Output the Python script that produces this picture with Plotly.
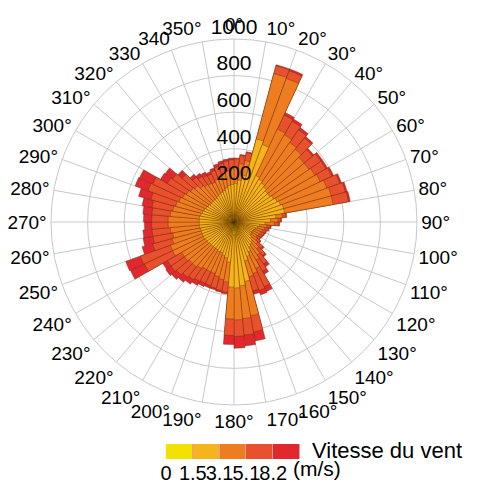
import plotly.graph_objects as go

# 5-degree direction bins (start angle of each bin)
bin_start = list(range(0, 360, 5))

# cumulative radius at the outer edge of each speed class
# (yellow / amber / orange / red-orange / red), one value per 5-degree bin
edge_0_15 = [30, 30, 30, 35, 35, 35, 35, 30, 30, 30, 30, 30, 30, 30, 30, 30, 30, 30,
             30, 30, 25, 25, 25, 25, 25, 25, 25, 30, 30, 30, 35, 40, 45, 55, 65, 70,
             70, 55, 45, 40, 40, 35, 35, 35, 35, 35, 35, 35, 35, 35, 35, 35, 35, 35,
             35, 35, 35, 35, 35, 35, 35, 35, 35, 35, 35, 35, 35, 35, 35, 35, 35, 35]
edge_15_31 = [210, 230, 260, 470, 450, 280, 270, 260, 250, 240, 240, 250, 260, 270, 280, 280, 230, 200,
              170, 140, 130, 120, 115, 110, 110, 115, 125, 140, 150, 160, 180, 200, 220, 330, 350, 360,
              355, 220, 200, 190, 180, 180, 175, 175, 175, 175, 180, 180, 185, 185, 185, 185, 190, 190,
              190, 190, 185, 180, 175, 170, 165, 160, 160, 160, 160, 165, 170, 175, 180, 190, 200, 205]
edge_31_51 = [300, 320, 340, 840, 835, 560, 550, 530, 520, 500, 500, 510, 520, 540, 550, 550, 265, 240,
              220, 180, 170, 160, 155, 150, 145, 155, 170, 190, 220, 240, 280, 300, 310, 520, 530, 535,
              530, 330, 320, 310, 300, 300, 300, 310, 320, 320, 330, 330, 370, 370, 350, 340, 350, 360,
              360, 350, 340, 330, 320, 310, 300, 290, 280, 260, 250, 245, 240, 250, 260, 270, 280, 290]
edge_51_82 = [345, 365, 385, 885, 880, 645, 635, 615, 600, 560, 580, 580, 590, 615, 630, 635, 285, 255,
              245, 200, 190, 180, 175, 170, 165, 175, 205, 240, 280, 310, 390, 400, 390, 610, 620, 625,
              620, 385, 380, 375, 370, 370, 375, 385, 395, 410, 420, 420, 540, 545, 460, 450, 450, 450,
              450, 450, 455, 470, 500, 490, 420, 410, 370, 320, 305, 295, 290, 300, 315, 325, 335, 340]
edge_total = [350, 370, 390, 890, 890, 660, 650, 630, 610, 570, 590, 590, 600, 625, 640, 645, 290, 260,
              250, 205, 195, 185, 180, 175, 170, 180, 215, 250, 300, 330, 420, 425, 410, 660, 680, 690,
              670, 395, 390, 385, 385, 390, 400, 415, 430, 445, 455, 450, 625, 630, 520, 505, 500, 490,
              495, 500, 510, 540, 575, 570, 465, 460, 400, 340, 325, 315, 305, 315, 330, 340, 345, 350]

speed_labels = ["0", "1.5", "3.1", "5.1", "8.2"]
speed_colors = ["#f2e200", "#f5b41c", "#ee7d22", "#e8502e", "#e2272f"]

ring_values = [200, 400, 600, 800, 1000]
angle_ticks = list(range(0, 360, 10))
angle_text = [f"{a}" if a in (330, 340) else f"{a}°" for a in angle_ticks]

FONT = "Liberation Sans, Arial, sans-serif"

# the page body adds an 8px margin, so the figure is drawn 8px smaller
W, H, OFF = 476, 475, 8


def px(x):
    return (x - OFF) / W


def py(y):
    return 1 - (y - OFF) / H


fig = go.Figure()

# outermost class first, inner classes drawn on top (overlay)
layers = [edge_total, edge_51_82, edge_31_51, edge_15_31, edge_0_15]
for vals, col in zip(layers, speed_colors[::-1]):
    fig.add_trace(go.Barpolar(
        r=vals,
        theta=[b + 2.5 for b in bin_start],
        width=[5] * len(bin_start),
        marker=dict(color=col, line=dict(color="rgba(90,45,0,0.6)", width=0.6)),
        showlegend=False,
        hoverinfo="skip",
    ))

# ring labels along north axis
fig.add_trace(go.Scatterpolar(
    r=ring_values,
    theta=[0] * len(ring_values),
    mode="text",
    text=[str(v) for v in ring_values],
    textposition="top center",
    textfont=dict(family=FONT, size=21, color="black"),
    showlegend=False,
    hoverinfo="skip",
))

# speed legend as a one-row heatmap strip
n = len(speed_colors)
cscale = []
for i, c in enumerate(speed_colors):
    cscale.append([i / n, c])
    cscale.append([(i + 1) / n, c])
fig.add_trace(go.Heatmap(
    z=[list(range(n))],
    x=[i + 0.5 for i in range(n)],
    y=[0],
    colorscale=cscale, zmin=-0.5, zmax=n - 0.5,
    showscale=False, xgap=1,
    hoverinfo="skip",
    xaxis="x", yaxis="y",
))

fig.update_layout(
    width=W, height=H,
    margin=dict(l=0, r=0, t=0, b=0),
    paper_bgcolor="white",
    plot_bgcolor="#e0a0a0",
    polar=dict(
        domain=dict(x=[px(51), px(417)], y=[py(405), py(39)]),
        bgcolor="white",
        barmode="overlay",
        bargap=0,
        angularaxis=dict(
            rotation=90, direction="clockwise",
            tickmode="array", tickvals=angle_ticks, ticktext=angle_text,
            tickfont=dict(family=FONT, size=19, color="black"),
            gridcolor="#c8c8c8", gridwidth=1,
            showline=True, linecolor="#c8c8c8", linewidth=1,
            ticks="", ticklen=1,
        ),
        radialaxis=dict(
            range=[0, 1000], tickvals=ring_values,
            showticklabels=False, ticks="",
            gridcolor="#c8c8c8", gridwidth=1,
            showline=False, angle=90,
        ),
    ),
    xaxis=dict(
        domain=[px(166), px(300)], range=[0, n],
        tickmode="array", tickvals=list(range(n)), ticktext=speed_labels,
        tickangle=0, automargin=False,
        ticks="", showgrid=False, zeroline=False, showline=False,
        tickfont=dict(family=FONT, size=20, color="black"),
        fixedrange=True,
    ),
    yaxis=dict(
        domain=[py(459), py(444)], range=[-0.5, 0.5],
        showticklabels=False, ticks="", showgrid=False, zeroline=False,
        automargin=False, fixedrange=True,
    ),
    annotations=[
        dict(text="Vitesse du vent", xref="paper", yref="paper",
             x=px(310), y=py(450), xanchor="left", yanchor="middle",
             showarrow=False,
             font=dict(family=FONT, size=22, color="black")),
        dict(text="(m/s)", xref="paper", yref="paper",
             x=px(291), y=py(468), xanchor="left", yanchor="middle",
             showarrow=False,
             font=dict(family=FONT, size=21, color="black")),
    ],
)

fig.write_html("out.html")
